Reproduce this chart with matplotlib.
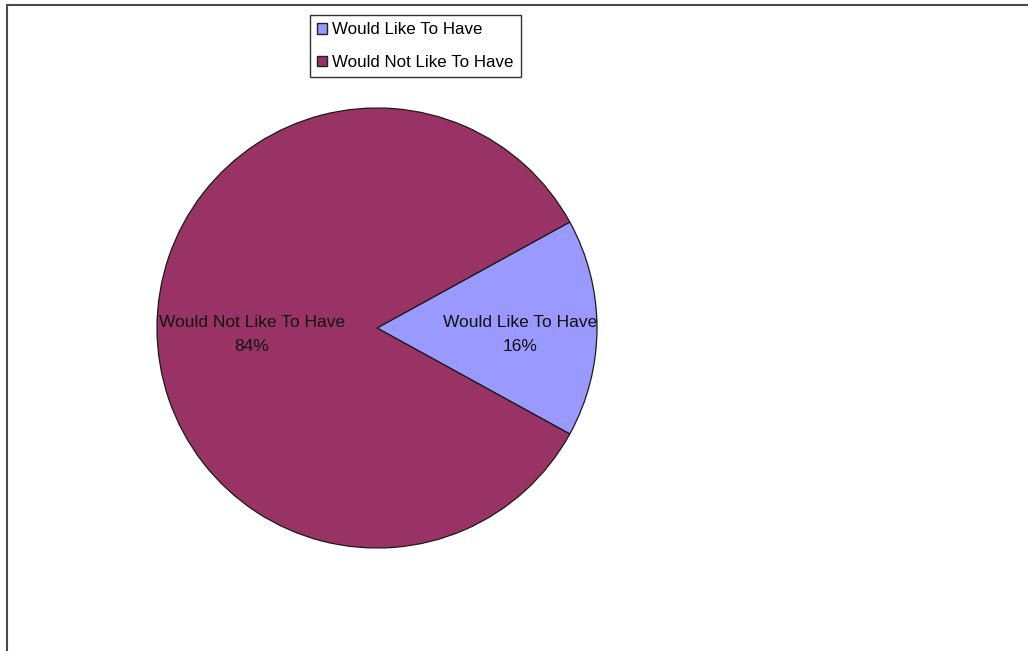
import matplotlib
matplotlib.use("Agg")
import matplotlib.pyplot as plt
from matplotlib.patches import Rectangle
import numpy as np

plt.rcParams['font.family'] = ['Liberation Sans', 'DejaVu Sans']

labels = ["Would Like To Have", "Would Not Like To Have"]
shares = [16, 84]
colours = ["#9999FF", "#993366"]
label_dist = [0.65, 0.57]

W, H = 1028, 651
fig = plt.figure(figsize=(W / 100, H / 100), dpi=100)

# outer chart frame (right and bottom edges fall off the canvas)
fig.add_artist(Rectangle((7 / W, -0.1), 2.0, 1 - 5 / H + 0.1, transform=fig.transFigure,
                         fill=False, edgecolor="#4a4a4a", linewidth=1.5))

cx, cy, r = 377, 328, 220
ax = fig.add_axes([(cx - r) / W, (H - cy - r) / H, 2 * r / W, 2 * r / H])
start = -shares[0] / 100 * 360 / 2
wedges, _ = ax.pie(shares, colors=colours, startangle=start, counterclock=True,
                   wedgeprops=dict(edgecolor="#1a1a1a", linewidth=0.9))
ax.set_xlim(-1, 1)
ax.set_ylim(-1, 1)
ax.set_aspect("equal")

for w, lab, val, d in zip(wedges, labels, shares, label_dist):
    mid = np.deg2rad((w.theta1 + w.theta2) / 2)
    ax.text(d * np.cos(mid), d * np.sin(mid) - 0.03, f"{lab}\n{val}%", ha="center", va="center",
            fontsize=12.5, linespacing=1.75, color="#111111")

leg = fig.legend(wedges, labels, loc="upper left", bbox_to_anchor=(310 / W, 1 - 15 / H),
                 fontsize=12.2, frameon=True, fancybox=False, edgecolor="black",
                 handlelength=0.6, handleheight=0.6, handletextpad=0.3,
                 labelspacing=1.05, borderpad=0.42, borderaxespad=0)
leg.get_frame().set_linewidth(1.0)
for h in leg.legend_handles:
    h.set_edgecolor("#222222")
    h.set_linewidth(1.0)

fig.savefig("out.png", dpi=100, facecolor="white")
